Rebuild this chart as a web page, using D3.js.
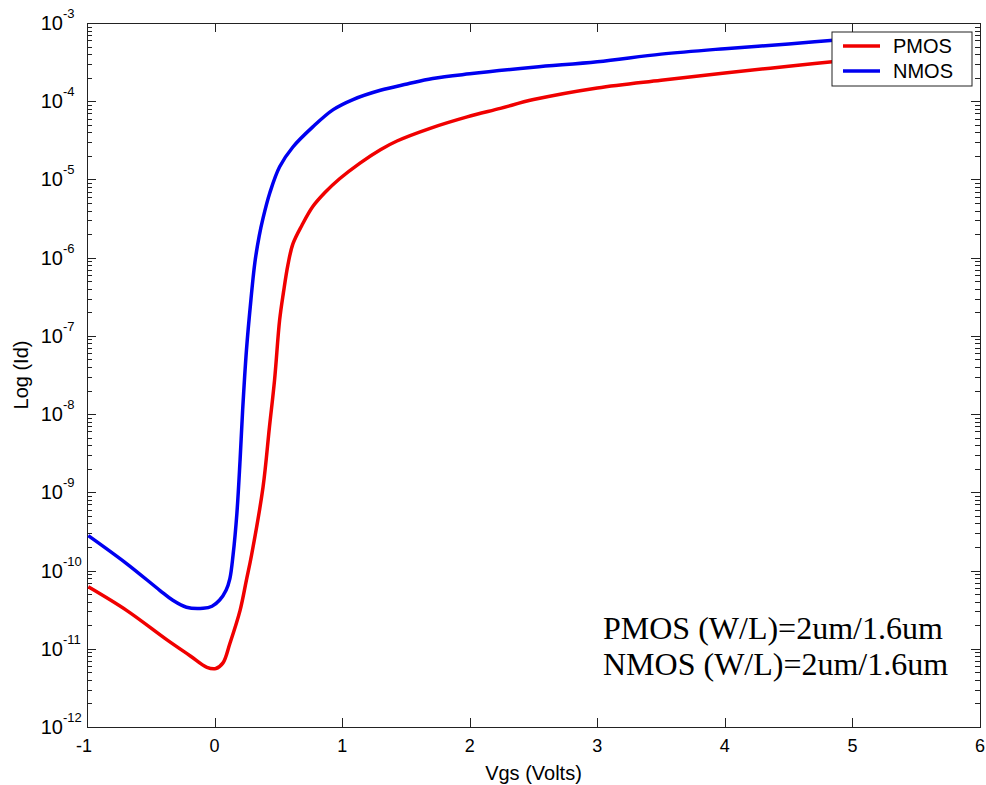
<!DOCTYPE html>
<html>
<head>
<meta charset="utf-8">
<script src="https://cdn.jsdelivr.net/npm/d3@7/dist/d3.min.js"></script>
<style>
  body { margin: 0; background: #fff; }
  svg { display: block; }
  .axis path, .axis line { stroke: #222; shape-rendering: crispEdges; }
  text { font-family: Arial, 'Liberation Sans', sans-serif; fill: #000; }
</style>
</head>
<body>
<svg id="chart" width="986" height="785"></svg>
<script>
// NMOS curve, Vgs in volts, Id in amps
var vgsN = [-0.99, -0.69, -0.43, -0.33, -0.22, -0.09, -0.02, 0.04, 0.09, 0.12, 0.145, 0.175, 0.20, 0.22, 0.25,
  0.285, 0.316, 0.35, 0.38, 0.434, 0.51, 0.614, 0.77, 0.93, 1.085, 1.30, 1.51, 1.71, 2.0, 2.5, 3.0, 3.5, 4.0,
  4.5, 5.0];
var idN = [2.8e-10, 1.23e-10, 5.6e-11, 4.2e-11, 3.4e-11, 3.3e-11, 3.5e-11, 4.2e-11, 5.6e-11, 7.9e-11, 1.58e-10,
  5.4e-10, 2.6e-9, 1.12e-8, 6.6e-8, 2.9e-7, 8.7e-7, 1.9e-6, 3.2e-6, 6.8e-6, 1.45e-5, 2.6e-5, 4.7e-5, 7.8e-5,
  1.05e-4, 1.38e-4, 1.66e-4, 1.95e-4, 2.24e-4, 2.72e-4, 3.2e-4, 4.0e-4, 4.7e-4, 5.4e-4, 6.3e-4];

// PMOS curve
var vgsP = [-0.99, -0.69, -0.37, -0.19, -0.06, 0.01, 0.066, 0.12, 0.20, 0.25, 0.29, 0.38, 0.43, 0.47, 0.51,
  0.54, 0.575, 0.614, 0.685, 0.77, 0.865, 0.98, 1.14, 1.30, 1.43, 1.69, 1.98, 2.24, 2.5, 3.0, 3.5, 4.0, 4.5, 5.0];
var idP = [6.2e-11, 3.1e-11, 1.29e-11, 8.1e-12, 5.8e-12, 5.6e-12, 6.6e-12, 1.17e-11, 3.1e-11, 7.6e-11, 1.58e-10,
  1.17e-9, 6.8e-9, 2.7e-8, 1.6e-7, 3.6e-7, 8.1e-7, 1.5e-6, 2.6e-6, 4.5e-6, 6.8e-6, 1.02e-5, 1.62e-5, 2.4e-5,
  3.1e-5, 4.5e-5, 6.3e-5, 8.1e-5, 1.05e-4, 1.48e-4, 1.86e-4, 2.3e-4, 2.8e-4, 3.4e-4];

var xTicks = [-1, 0, 1, 2, 3, 4, 5, 6];
var yExponents = [-12, -11, -10, -9, -8, -7, -6, -5, -4, -3];
var seriesNames = ['PMOS', 'NMOS'];
var seriesColors = ['#f00000', '#0000f0'];
var noteLines = ['PMOS (W/L)=2um/1.6um', 'NMOS (W/L)=2um/1.6um'];

var svg = d3.select('#chart');
var box = { left: 87, top: 23, right: 980, bottom: 727 };

var x = d3.scaleLinear().domain([-1, 6]).range([box.left, box.right]);
var y = d3.scaleLog().domain([1e-12, 1e-3]).range([box.bottom, box.top]);

/* minor ticks 2..9 in every decade */
var majors = yExponents.map(function (e) { return Math.pow(10, e); });
var minors = [];
yExponents.slice(0, -1).forEach(function (e) {
  for (var k = 2; k <= 9; k++) minors.push(k * Math.pow(10, e));
});

function drawAxis(axis, tx, ty) {
  svg.append('g')
    .attr('class', 'axis')
    .attr('transform', 'translate(' + tx + ',' + ty + ')')
    .call(axis)
    .call(function (g) { g.selectAll('text').remove(); });
}

// bottom/top x ticks, pointing inward
drawAxis(d3.axisBottom(x).tickValues(xTicks).tickSize(-9).tickSizeOuter(0), 0, box.bottom);
drawAxis(d3.axisTop(x).tickValues(xTicks).tickSize(-9).tickSizeOuter(0), 0, box.top);
// left/right y ticks (major + minor)
drawAxis(d3.axisLeft(y).tickValues(majors).tickSize(-9).tickSizeOuter(0), box.left, 0);
drawAxis(d3.axisLeft(y).tickValues(minors).tickSize(-5).tickSizeOuter(0), box.left, 0);
drawAxis(d3.axisRight(y).tickValues(majors).tickSize(-9).tickSizeOuter(0), box.right, 0);
drawAxis(d3.axisRight(y).tickValues(minors).tickSize(-5).tickSizeOuter(0), box.right, 0);

/* x tick labels */
svg.append('g').selectAll('text')
  .data(xTicks)
  .enter().append('text')
  .attr('x', function (d) { return x(d) - (d < 0 ? 3 : 0); })
  .attr('y', 752)
  .attr('text-anchor', 'middle')
  .style('font-size', '18px')
  .text(function (d) { return d; });

/* y tick labels as 10 with superscript */
var yl = svg.append('g').selectAll('g')
  .data(yExponents)
  .enter().append('g');
yl.append('text')
  .attr('x', 63)
  .attr('y', function (d) { return y(Math.pow(10, d)) + 7; })
  .attr('text-anchor', 'end')
  .style('font-size', '20px')
  .text('10');
yl.append('text')
  .attr('x', 63)
  .attr('y', function (d) { return y(Math.pow(10, d)) - 5; })
  .style('font-size', '13px')
  .text(function (d) { return d; });

/* curves */
var line = d3.line()
  .x(function (d) { return x(d[0]); })
  .y(function (d) { return y(d[1]); })
  .curve(d3.curveCatmullRom.alpha(0.5));

var curves = [d3.zip(vgsP, idP), d3.zip(vgsN, idN)];
svg.append('g').selectAll('path')
  .data(curves)
  .enter().append('path')
  .attr('d', line)
  .attr('fill', 'none')
  .attr('stroke-width', 3.5)
  .attr('stroke-linejoin', 'round')
  .attr('stroke', function (d, i) { return seriesColors[i]; });

/* axis labels */
svg.append('text')
  .attr('x', (box.left + box.right) / 2)
  .attr('y', 780)
  .attr('text-anchor', 'middle')
  .style('font-size', '20px')
  .text('Vgs (Volts)');
svg.append('text')
  .attr('transform', 'translate(28,' + (box.top + box.bottom) / 2 + ') rotate(-90)')
  .attr('text-anchor', 'middle')
  .style('font-size', '20px')
  .text('Log (Id)');

/* legend */
var legend = svg.append('g').attr('transform', 'translate(832,32)');
legend.append('rect')
  .attr('width', 140)
  .attr('height', 54)
  .attr('fill', '#fff')
  .attr('stroke', '#222');
var items = legend.selectAll('g.item')
  .data(seriesNames)
  .enter().append('g')
  .attr('class', 'item')
  .attr('transform', function (d, i) { return 'translate(0,' + (14 + i * 25) + ')'; });
items.append('line')
  .attr('x1', 11).attr('x2', 48)
  .attr('stroke-width', 3.5)
  .attr('stroke', function (d, i) { return seriesColors[i]; });
items.append('text')
  .attr('x', 61)
  .attr('y', 7)
  .style('font-size', '20px')
  .text(function (d) { return d; });

/* annotation */
svg.append('g').selectAll('text')
  .data(noteLines)
  .enter().append('text')
  .attr('x', 603)
  .attr('y', function (d, i) { return 639 + i * 36; })
  .style('font-family', "'Liberation Serif', 'Times New Roman', serif")
  .style('font-size', '32px')
  .text(function (d) { return d; });
</script>
</body>
</html>
